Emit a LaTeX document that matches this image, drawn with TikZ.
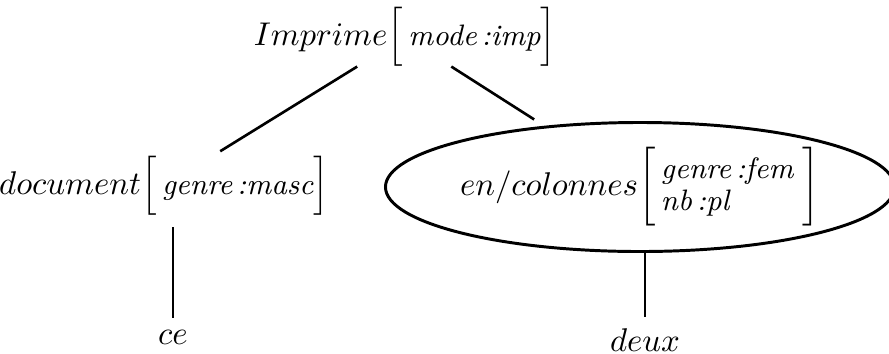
\documentclass[tikz,border=0pt]{standalone}
\usepackage{amsmath,amssymb}
\usepackage{tikz}
\usetikzlibrary{positioning,shapes.geometric}

\newcommand{\trait}[1]{\mbox{\small\itshape #1}}

\begin{document}
\begin{tikzpicture}[
  x=0.0107cm, y=-0.0107cm,
  feat/.style={inner sep=0pt, outer sep=0pt},
  leaf/.style={inner sep=3.33pt},
  bulle/.style={draw, ellipse, line width=0.9pt, inner sep=0pt,
    minimum width=5.3cm, minimum height=1.38cm},
  lnk/.style={line width=0.8pt}
]
\useasboundingbox (0,0) rectangle (889,353);

\node[feat] (imp) at (405,37)
  {$Imprime{\left[\,\trait{mode\,:imp}\vphantom{\Big|}\right]}$};
\node[feat] (doc) at (164,186)
  {$document{\left[\,\trait{genre\,:masc}\vphantom{\Big|}\right]}$};
\node[bulle] (col) at (640,187)
  {$en/colonnes\biggl[\,\mbox{\small\itshape\renewcommand{\arraystretch}{0.9}%
   \begin{tabular}{@{}l@{}}genre\,:fem\\ nb\,:pl\end{tabular}}\;\biggr]$};

\node[leaf] (ce) at (173,337) {$ce$};
\node[leaf] (deux) at (645,340) {$deux$};

\draw[lnk, shorten >=3pt] (imp) -- (doc);
\draw[lnk, shorten >=3.6pt] (imp) -- (col);
\draw[lnk] ([yshift=-3.6pt]doc.south -| ce) -- (ce);
\draw[lnk] (col.south -| deux) -- (deux);
\end{tikzpicture}
\end{document}
